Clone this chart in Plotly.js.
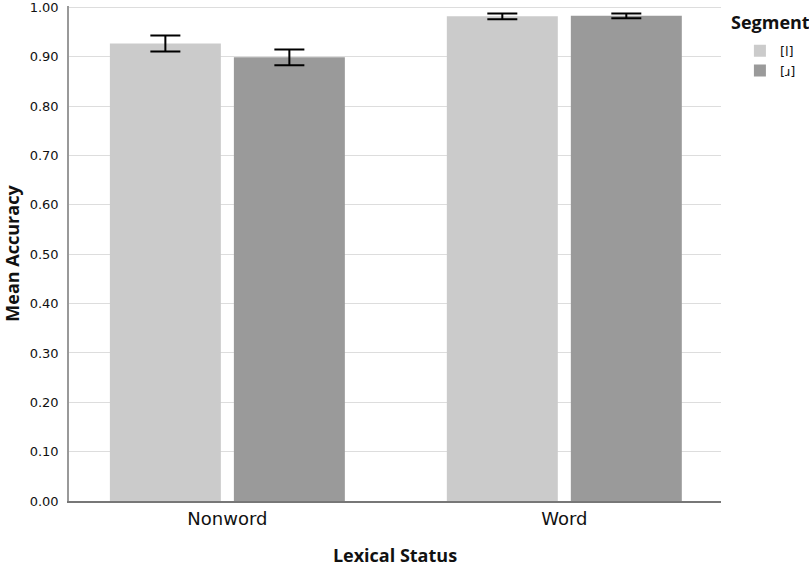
<!DOCTYPE html>
<html>
<head>
<meta charset="utf-8">
<script src="https://cdn.plot.ly/plotly-3.0.1.min.js"></script>
<style>
  html, body { margin: 0; padding: 0; background: #fff; }
  #chart { width: 809px; height: 568px; }
</style>
</head>
<body>
<div id="chart"></div>
<script>
// Lexical status categories and mean accuracy per segment
const categories = ["Nonword", "Word"];
const segLabels = ["[l]", "[ɹ]"];
const meanL = [0.927, 0.982];
const errL = [0.016, 0.006];
const meanR = [0.899, 0.983];
const errR = [0.016, 0.005];
const yTicks = [0, 0.1, 0.2, 0.3, 0.4, 0.5, 0.6, 0.7, 0.8, 0.9, 1.0];

const errStyle = { type: "data", visible: true, color: "#000", thickness: 2, width: 15 };
const boldFont = { family: "Open Sans", size: 18, weight: "bold", color: "#111" };

var traceL = {
    x: categories,
    y: meanL,
    type: "bar",
    name: segLabels[0],
    marker: { color: "#cbcbcb" },
    error_y: Object.assign({ array: errL }, errStyle),
    hoverinfo: "y"
};

var traceR = {
    x: categories,
    y: meanR,
    type: "bar",
    name: segLabels[1],
    marker: { color: "#9a9a9a" },
    error_y: Object.assign({ array: errR }, errStyle),
    hoverinfo: "y"
};

var data = [traceL, traceR];

var layout = {
    width: 809,
    height: 568,
    margin: { l: 69, r: 88, t: 6, b: 67 },
    paper_bgcolor: "#fff",
    plot_bgcolor: "#fff",
    font: { family: "DejaVu Sans", color: "#111" },
    barmode: "group",
    bargap: 0.264,
    bargroupgap: 0.105,
    showlegend: true,
    legend: {
        x: 1.029,
        xanchor: "left",
        y: 0.94,
        yanchor: "top",
        font: { family: "DejaVu Sans", size: 13, color: "#111" },
        traceorder: "normal",
        tracegroupgap: 0,
        itemwidth: 30
    },
    annotations: [{
        text: "Segment",
        xref: "paper",
        yref: "paper",
        x: 1.012,
        y: 0.995,
        xanchor: "left",
        yanchor: "top",
        showarrow: false,
        font: boldFont
    }],
    xaxis: {
        type: "category",
        range: [-0.47, 1.465],
        title: { text: "Lexical Status", font: boldFont, standoff: 22 },
        tickfont: { family: "DejaVu Sans", size: 18, color: "#111" },
        showline: true,
        linecolor: "#777",
        linewidth: 2,
        ticks: "",
        showgrid: false
    },
    yaxis: {
        range: [0, 1.003],
        tickvals: yTicks,
        tickformat: ".2f",
        ticklabeloverflow: "allow",
        title: { text: "Mean Accuracy", font: boldFont, standoff: 10 },
        tickfont: { family: "DejaVu Sans", size: 13, color: "#111" },
        showline: true,
        linecolor: "#999",
        linewidth: 1.5,
        showgrid: true,
        gridcolor: "#dddddd",
        gridwidth: 1,
        zeroline: false,
        ticks: "",
        ticklabelstandoff: 6
    }
};

Plotly.newPlot("chart", data, layout, { displayModeBar: false });
</script>
</body>
</html>
